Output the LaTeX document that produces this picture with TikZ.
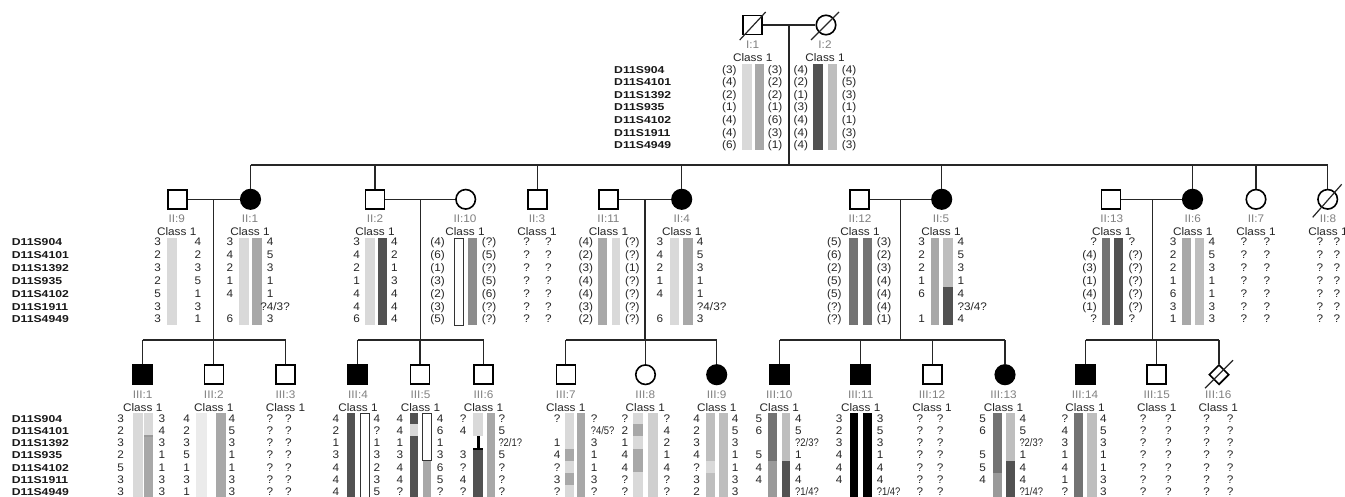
\documentclass[tikz,border=0pt]{standalone}
\usepackage{fontspec}
\setmainfont{Liberation Sans}[FakeStretch=1.07]
\newfontfamily\mkfont{Liberation Sans}[FakeStretch=1.22]
\usetikzlibrary{shapes.geometric}
\definecolor{cL}{HTML}{D9D9D9}
\definecolor{cL2}{HTML}{CFCFCF}
\definecolor{cVL}{HTML}{EBEBEB}
\definecolor{cM}{HTML}{A8A8A8}
\definecolor{cMl}{HTML}{BEBEBE}
\definecolor{cDM}{HTML}{737373}
\definecolor{cD}{HTML}{525252}
\definecolor{cG}{HTML}{8C8C8C}
\definecolor{cX}{HTML}{9A9A9A}
\def\ytopI{64.3}\def\ybotI{150}
\def\ytopII{238}\def\ybotII{325}
\def\ytopIII{413}\def\ybotIII{500}
\newcommand\hb[5]{\fill[#5] (#1,#3) rectangle (#2,#4);}
\newcommand\wb[4]{\draw[fill=white,line width=0.8pt,draw=black!80] (#1,#3) rectangle (#2,#4);}
\newcommand\qq[1]{\scalebox{0.8}[1]{#1}}
\newcommand\geno[7]{%
  \foreach \v [count=\i from 0] in {#6} {\node[al,anchor=base east,name=#1-l\i] at (#4,#2+\i*#3+4) {\v};}
  \foreach \v [count=\i from 0] in {#7} {\node[al,anchor=base west,name=#1-r\i] at (#5,#2+\i*#3+4) {\v};}}
\newcommand\markers[4]{%
  \foreach \v [count=\i from 0] in {D11S904,D11S4101,D11S1392,D11S935,D11S4102,D11S1911,D11S4949}
  {\node[mk,name=#1-\i] at (#2,#3+\i*#4+4) {\v};}}
\newcommand\plab[4]{%
  \node[idl,name=#1-id] at (#2,#3+19.5+4) {#4};
  \node[cls,name=#1-cl] at (#2,#3+32.5+4) {Class 1};}
\begin{document}
\begin{tikzpicture}[x=1pt,y=-1pt,
  al/.style={font=\fontsize{11}{12}\selectfont,inner sep=0pt,text=black!85},
  mk/.style={font=\mkfont\bfseries\fontsize{10}{12}\selectfont,inner sep=0pt,anchor=base west,text=black!90},
  idl/.style={font=\fontsize{11}{12}\selectfont,inner sep=0pt,anchor=base,text=black!50},
  cls/.style={font=\fontsize{11}{12}\selectfont,inner sep=0pt,anchor=base,text=black!85},
  male/.style={draw,rectangle,minimum size=19pt,inner sep=0pt,line width=1.6pt,fill=white},
  female/.style={draw,circle,minimum size=19.5pt,inner sep=0pt,line width=1.6pt,fill=white},
  unk/.style={draw,diamond,minimum width=20pt,minimum height=20pt,inner sep=0pt,line width=1.6pt,fill=white},
  aff/.style={fill=black},
  ln/.style={line width=1.2pt,draw=black!85},
  sl/.style={line width=1.2pt,draw=black!85}]
\useasboundingbox (0,0) rectangle (1345,497);
\clip (0,0) rectangle (1345,497);
\fill[white] (0,0) rectangle (1345,497);

% ---------- connectors ----------
\coordinate (m1) at (789,25);
\coordinate (s1) at (789,165);
\coordinate (d1t) at (213.3,199.3); \coordinate (d1b) at (213.3,340);
\coordinate (d2t) at (420.7,199.3); \coordinate (d2b) at (420.7,340);
\coordinate (d3t) at (645,199.3);   \coordinate (d3b) at (645,340);
\coordinate (d4t) at (900.7,199.3); \coordinate (d4b) at (900.7,340);
\coordinate (d5t) at (1152.7,199.3);\coordinate (d5b) at (1152.7,340);

% ---------- generation I ----------
\node[male,name=i1] at (752.7,25) {};
\node[female,name=i2] at (826,25) {};
\draw[ln] (i1.east) -- (i2.west);
\draw[ln] (m1) -- (s1);
\draw[sl] ([shift={(-13,15)}]i1.center) -- ([shift={(13,-13)}]i1.center);
\draw[sl] ([shift={(-15,15)}]i2.center) -- ([shift={(13,-13)}]i2.center);
\plab{p-i1}{752.7}{25}{I:1}
\plab{p-i2}{825}{25}{I:2}

% ---------- generation II symbols ----------
\node[male,name=ii9] at (177.5,199.3) {};
\node[female,aff,name=ii1] at (250.5,199.3) {};
\node[male,name=ii2] at (375,199.3) {};
\node[female,name=ii10] at (465.7,199.3) {};
\node[male,name=ii3] at (537.5,199.3) {};
\node[male,name=ii11] at (608.5,199.3) {};
\node[female,aff,name=ii4] at (681.7,199.3) {};
\node[male,name=ii12] at (859.7,199.3) {};
\node[female,aff,name=ii5] at (941.7,199.3) {};
\node[male,name=ii13] at (1111,199.3) {};
\node[female,aff,name=ii6] at (1192.5,199.3) {};
\node[female,name=ii7] at (1256,199.3) {};
\node[female,name=ii8] at (1327.7,199.3) {};
\draw[sl] ([shift={(-15,18)}]ii8.center) -- ([shift={(14,-15)}]ii8.center);

\draw[ln] (ii1 |- s1) -- (ii8 |- s1);
\foreach \n in {ii1,ii2,ii3,ii4,ii5,ii6,ii7,ii8} {\draw[ln] (\n |- s1) -- (\n.north);}
\draw[ln] (ii9.east) -- (ii1.west);
\draw[ln] (ii2.east) -- (ii10.west);
\draw[ln] (ii11.east) -- (ii4.west);
\draw[ln] (ii12.east) -- (ii5.west);
\draw[ln] (ii13.east) -- (ii6.west);
\draw[ln] (d1t) -- (d1b);
\draw[ln] (d2t) -- (d2b);
\draw[ln] (d3t) -- (d3b);
\draw[ln] (d4t) -- (d4b);
\draw[ln] (d5t) -- (d5b);

\plab{p-ii9}{176.7}{199.3}{II:9}
\plab{p-ii1}{250}{199.3}{II:1}
\plab{p-ii2}{375}{199.3}{II:2}
\plab{p-ii10}{465}{199.3}{II:10}
\plab{p-ii3}{537}{199.3}{II:3}
\plab{p-ii11}{608.5}{199.3}{II:11}
\plab{p-ii4}{681.7}{199.3}{II:4}
\plab{p-ii12}{860}{199.3}{II:12}
\plab{p-ii5}{941}{199.3}{II:5}
\plab{p-ii13}{1111.7}{199.3}{II:13}
\plab{p-ii6}{1192.7}{199.3}{II:6}
\plab{p-ii7}{1256}{199.3}{II:7}
\plab{p-ii8}{1328}{199.3}{II:8}

% ---------- generation III symbols ----------
\node[male,aff,name=iii1] at (142.7,374.7) {};
\node[male,name=iii2] at (213.8,374.7) {};
\node[male,name=iii3] at (285.5,374.7) {};
\node[male,aff,name=iii4] at (357.5,374.7) {};
\node[male,name=iii5] at (420,374.7) {};
\node[male,name=iii6] at (483.5,374.7) {};
\node[male,name=iii7] at (565.8,374.7) {};
\node[female,name=iii8] at (645.5,374.7) {};
\node[female,aff,name=iii9] at (716.7,374.7) {};
\node[male,aff,name=iii10] at (779.7,374.7) {};
\node[male,aff,name=iii11] at (860.5,374.7) {};
\node[male,name=iii12] at (932.5,374.7) {};
\node[female,aff,name=iii13] at (1005,374.7) {};
\node[male,aff,name=iii14] at (1085.5,374.7) {};
\node[male,name=iii15] at (1156.5,374.7) {};
\node[unk,name=iii16] at (1219,374.7) {};
\draw[sl] ([shift={(-14,13.5)}]iii16.center) -- ([shift={(14,-14.5)}]iii16.center);

\draw[ln] (iii1 |- d1b) -- (iii3 |- d1b);
\draw[ln] (iii4 |- d2b) -- (iii6 |- d2b);
\draw[ln] (iii7 |- d3b) -- (iii9 |- d3b);
\draw[ln] (iii10 |- d4b) -- (iii13 |- d4b);
\draw[ln] (iii14 |- d5b) -- (iii16 |- d5b);
\foreach \n in {iii1,iii2,iii3,iii4,iii5,iii6,iii7,iii8,iii9,iii10,iii11,iii12,iii13,iii14,iii15,iii16}
  {\draw[ln] (\n |- d1b) -- (\n.north);}

\plab{p-iii1}{142.7}{374.7}{III:1}
\plab{p-iii2}{213.8}{374.7}{III:2}
\plab{p-iii3}{285.5}{374.7}{III:3}
\plab{p-iii4}{358}{374.7}{III:4}
\plab{p-iii5}{420.5}{374.7}{III:5}
\plab{p-iii6}{483.5}{374.7}{III:6}
\plab{p-iii7}{565.8}{374.7}{III:7}
\plab{p-iii8}{645.3}{374.7}{III:8}
\plab{p-iii9}{716.7}{374.7}{III:9}
\plab{p-iii10}{779.3}{374.7}{III:10}
\plab{p-iii11}{860.7}{374.7}{III:11}
\plab{p-iii12}{932}{374.7}{III:12}
\plab{p-iii13}{1003.5}{374.7}{III:13}
\plab{p-iii14}{1085}{374.7}{III:14}
\plab{p-iii15}{1156.7}{374.7}{III:15}
\plab{p-iii16}{1218.3}{374.7}{III:16}

% ---------- haplotype bars ----------
% gen I
\hb{741.7}{751.7}{\ytopI}{\ybotI}{cL}
\hb{755}{764}{\ytopI}{\ybotI}{cM}
\hb{813}{823}{\ytopI}{\ybotI}{cD}
\hb{828}{837}{\ytopI}{\ybotI}{cMl}
% gen II
\hb{166.7}{176.7}{\ytopII}{\ybotII}{cL}
\hb{239}{249}{\ytopII}{\ybotII}{cL}
\hb{252}{262}{\ytopII}{\ybotII}{cM}
\hb{365}{375}{\ytopII}{\ybotII}{cL}
\hb{378}{387}{\ytopII}{\ybotII}{cD}
\wb{454.3}{463.3}{\ytopII}{\ybotII}
\hb{467.7}{476.7}{\ytopII}{\ybotII}{cG}
\hb{598.3}{607.3}{\ytopII}{\ybotII}{cM}
\hb{611.7}{620}{\ytopII}{\ybotII}{cL}
\hb{670}{679.3}{\ytopII}{\ybotII}{cL}
\hb{683.3}{692.7}{\ytopII}{\ybotII}{cM}
\hb{849.3}{858.3}{\ytopII}{\ybotII}{cDM}
\hb{863}{872}{\ytopII}{\ybotII}{cDM}
\hb{930.7}{939.3}{\ytopII}{\ybotII}{cM}
\hb{943.3}{952.7}{\ytopII}{287}{cMl}
\hb{943.3}{952.7}{287}{\ybotII}{cD}
\hb{1101.7}{1110}{\ytopII}{\ybotII}{cDM}
\hb{1114.3}{1123.3}{\ytopII}{\ybotII}{cD}
\hb{1181.7}{1190.7}{\ytopII}{\ybotII}{cM}
\hb{1195}{1204}{\ytopII}{\ybotII}{cMl}
% gen III
\hb{133.3}{142.7}{\ytopIII}{\ybotIII}{cL}
\hb{144.3}{153.3}{\ytopIII}{436}{cL}
\hb{144.3}{153.3}{436}{\ybotIII}{cM}
\hb{144.3}{153.3}{435}{437}{cX}
\hb{196}{206.7}{\ytopIII}{\ybotIII}{cVL}
\hb{216}{226}{\ytopIII}{\ybotIII}{cM}
\hb{346.7}{355}{\ytopIII}{\ybotIII}{cD}
\wb{360}{369.3}{\ytopIII}{\ybotIII}
\hb{410}{418.3}{\ytopIII}{423.5}{cD}
\hb{410}{418.3}{423.5}{436}{cL}
\hb{410}{418.3}{436}{\ybotIII}{cD}
\wb{422.7}{431}{\ytopIII}{460.5}
\hb{422.7}{431}{460.5}{\ybotIII}{cM}
\hb{473.3}{482.7}{\ytopIII}{436}{cL}
\hb{476.5}{479.5}{436}{448.5}{black}
\hb{473.3}{482.7}{448.5}{\ybotIII}{cD}
\hb{473.3}{482.7}{447.5}{450}{black}
\hb{486.7}{495}{\ytopIII}{\ybotIII}{cM}
\hb{565}{574.3}{\ytopIII}{\ybotIII}{cL}
\hb{565}{574.3}{448.5}{460.8}{cM}
\hb{565}{574.3}{473}{485.3}{cM}
\hb{576.7}{585}{\ytopIII}{\ybotIII}{cM}
\hb{633.3}{642.7}{\ytopIII}{\ybotIII}{cL}
\hb{633.3}{642.7}{424}{436}{cM}
\hb{633.3}{642.7}{448.5}{472}{cM}
\hb{648.3}{658.3}{\ytopIII}{\ybotIII}{cL2}
\hb{706}{715}{\ytopIII}{\ybotIII}{cMl}
\hb{706}{715}{460.8}{473}{cL}
\hb{719.3}{728.3}{\ytopIII}{\ybotIII}{cMl}
\hb{768.3}{777.3}{\ytopIII}{460.8}{cDM}
\hb{768.3}{777.3}{460.8}{\ybotIII}{cX}
\hb{781.7}{790}{\ytopIII}{460.8}{cMl}
\hb{781.7}{790}{460.8}{\ybotIII}{cD}
\hb{850}{858.3}{\ytopIII}{\ybotIII}{black}
\hb{863.3}{871.7}{\ytopIII}{\ybotIII}{black}
\hb{992.7}{1001.7}{\ytopIII}{473}{cDM}
\hb{992.7}{1001.7}{473}{\ybotIII}{cX}
\hb{1006}{1015}{\ytopIII}{460.8}{cMl}
\hb{1006}{1015}{460.8}{\ybotIII}{cD}
\hb{1074}{1083.3}{\ytopIII}{\ybotIII}{cDM}
\hb{1087.3}{1096.7}{\ytopIII}{\ybotIII}{cMl}

% ---------- marker names ----------
\markers{mI}{614}{69.3}{12.55}
\markers{mII}{11.7}{242}{12.8}
\markers{mIII}{11.7}{418}{12.3}

% ---------- alleles ----------
% gen I
\geno{gi1}{69.3}{12.55}{736.7}{767.7}{(3),(4),(2),(1),(4),(4),(6)}{(3),(2),(2),(1),(6),(3),(1)}
\geno{gi2}{69.3}{12.55}{808.3}{841.7}{(4),(2),(1),(3),(4),(4),(4)}{(4),(5),(3),(1),(1),(3),(3)}
% gen II
\geno{gii9}{242}{12.8}{161}{194.3}{3,2,3,2,5,3,3}{4,2,3,5,1,3,1}
\geno{gii1}{242}{12.8}{233.3}{266.7}{3,4,2,1,4,{},6}{4,5,3,1,1,\llap{?}4/3?,3}
\geno{gii2}{242}{12.8}{360}{391}{3,4,2,1,4,4,6}{4,2,1,3,4,4,4}
\geno{gii10}{242}{12.8}{445}{481.7}{(4),(6),(1),(3),(2),(3),(5)}{(?),(5),(?),(5),(6),(?),(?)}
\geno{gii3}{242}{12.8}{530}{545}{?,?,?,?,?,?,?}{?,?,?,?,?,?,?}
\geno{gii11}{242}{12.8}{593.3}{625}{(4),(2),(3),(4),(4),(3),(2)}{(?),(?),(1),(?),(?),(?),(?)}
\geno{gii4}{242}{12.8}{663.3}{696.7}{3,4,2,1,4,{},6}{4,5,3,1,1,?4/3?,3}
\geno{gii12}{242}{12.8}{841.7}{876.7}{(5),(6),(2),(5),(5),(?),(?)}{(3),(2),(3),(4),(4),(4),(1)}
\geno{gii5}{242}{12.8}{925}{957.3}{3,2,2,1,6,{},1}{4,5,3,1,4,?3/4?,4}
\geno{gii13}{242}{12.8}{1097}{1128.3}{?,(4),(3),(1),(4),(1),?}{?,(?),(?),(?),(?),(?),?}
\geno{gii6}{242}{12.8}{1176.7}{1208.3}{3,2,2,1,6,3,1}{4,5,3,1,1,3,3}
\geno{gii7}{242}{12.8}{1247.3}{1263.3}{?,?,?,?,?,?,?}{?,?,?,?,?,?,?}
\geno{gii8}{242}{12.8}{1323.3}{1333.3}{?,?,?,?,?,?,?}{?,?,?,?,?,?,?}
% gen III
\geno{giii1}{418}{12.3}{124}{158.3}{3,2,3,2,5,3,3}{3,4,3,1,1,3,3}
\geno{giii2}{418}{12.3}{190}{228.3}{4,2,3,5,1,3,1}{4,5,3,1,1,3,3}
\geno{giii3}{418}{12.3}{273.3}{285}{?,?,?,?,?,?,?}{?,?,?,?,?,?,?}
\geno{giii4}{418}{12.3}{339.3}{373.3}{4,2,1,3,4,4,4}{4,?,1,3,2,3,5}
\geno{giii5}{418}{12.3}{403.3}{436.7}{4,4,1,3,4,4,?}{4,6,1,3,6,5,?}
\geno{giii6}{418}{12.3}{466.7}{498.3}{?,4,{},3,?,4,?}{?,5,\qq{?2/1?},5,?,?,?}
\geno{giii7}{418}{12.3}{560.7}{590.7}{?,{},1,4,?,3,?}{?,\qq{?4/5?},3,1,1,3,?}
\geno{giii8}{418}{12.3}{628.3}{663.3}{?,2,1,4,4,?,?}{?,4,2,1,4,?,?}
\geno{giii9}{418}{12.3}{700}{731.7}{4,2,3,4,?,3,2}{4,5,3,1,1,3,3}
\geno{giii10}{418}{12.3}{762.3}{795}{5,6,{},5,4,4,{}}{4,5,\qq{?2/3?},1,4,4,\qq{?1/4?}}
\geno{giii11}{418}{12.3}{842.7}{876.7}{3,2,3,4,4,4,{}}{3,5,3,1,4,4,\qq{?1/4?}}
\geno{giii12}{418}{12.3}{923.3}{936.7}{?,?,?,?,?,?,?}{?,?,?,?,?,?,?}
\geno{giii13}{418}{12.3}{986}{1019.3}{5,6,{},5,5,4,{}}{4,5,\qq{?2/3?},1,4,4,\qq{?1/4?}}
\geno{giii14}{418}{12.3}{1068.3}{1100}{?,4,3,1,4,1,?}{4,5,3,1,1,3,3}
\geno{giii15}{418}{12.3}{1146.7}{1165}{?,?,?,?,?,?,?}{?,?,?,?,?,?,?}
\geno{giii16}{418}{12.3}{1210}{1226.7}{?,?,?,?,?,?,?}{?,?,?,?,?,?,?}
\end{tikzpicture}
\end{document}
